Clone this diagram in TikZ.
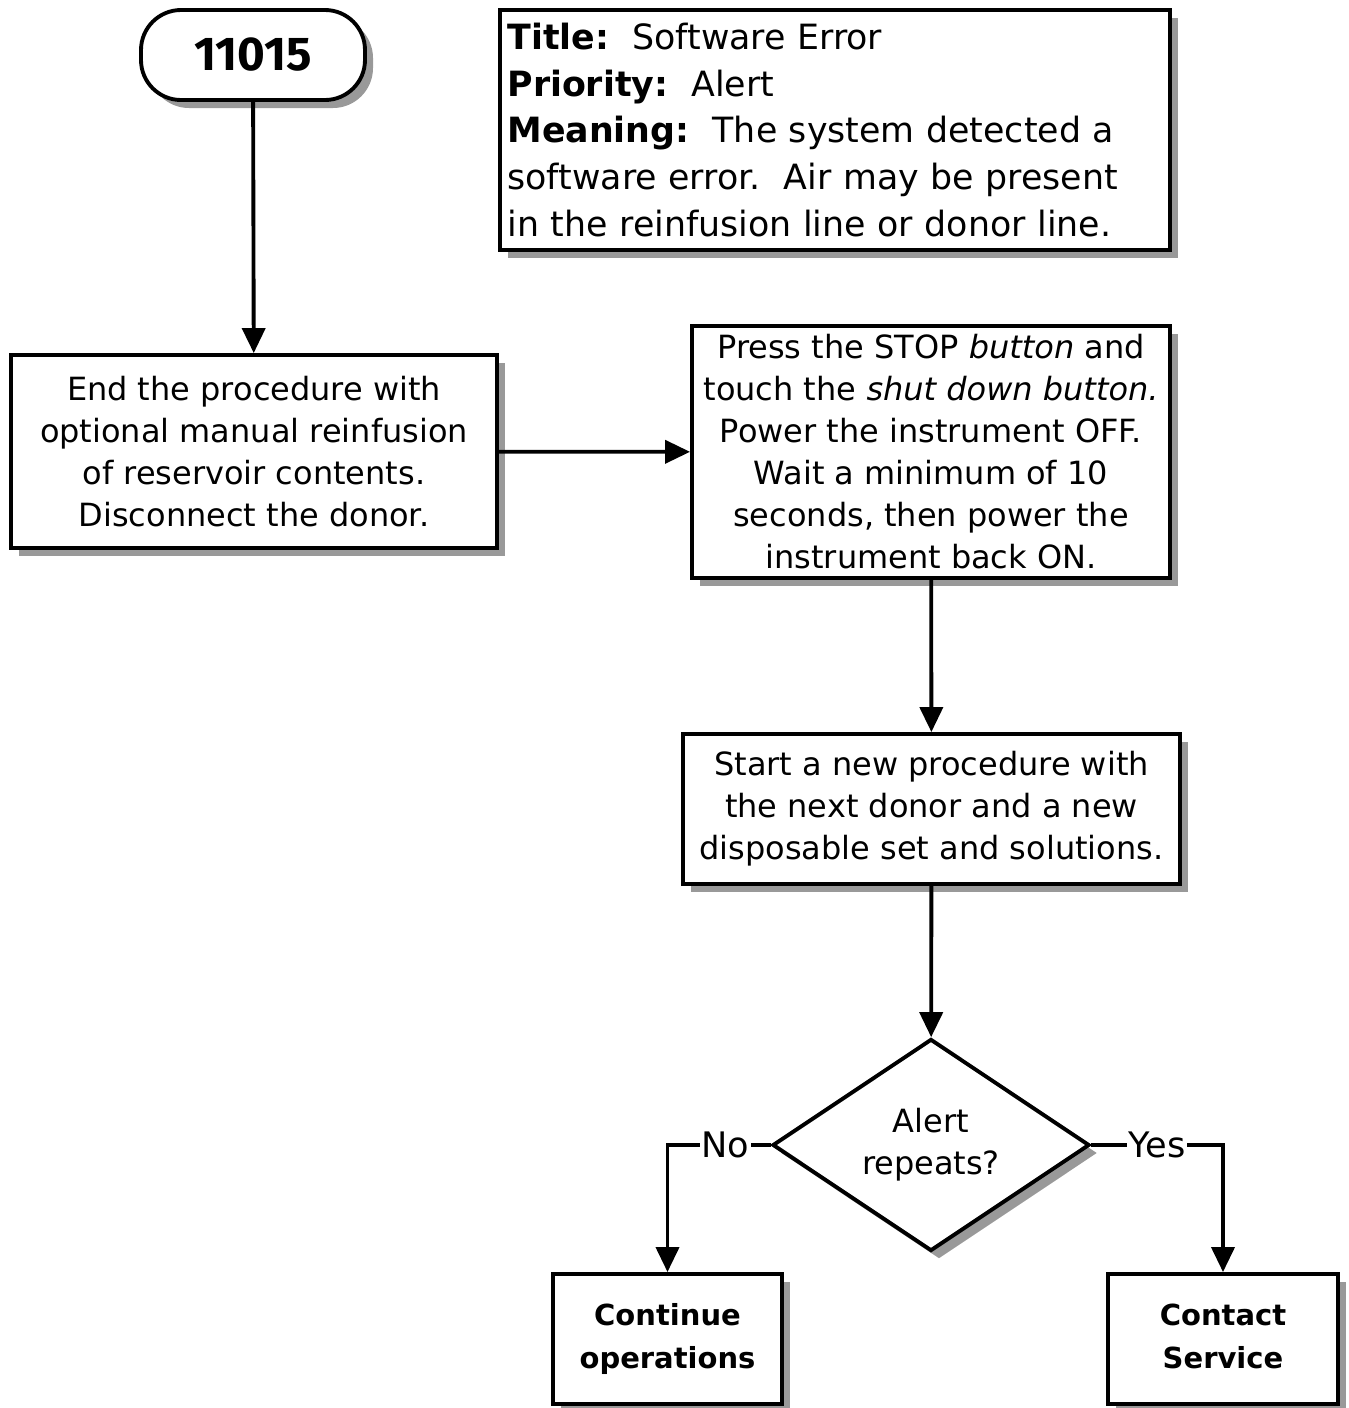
\documentclass[tikz,border=0pt]{standalone}
\usepackage{fontspec}
\setmainfont{DejaVu Sans}
\newfontfamily\codefont{Fira Sans}
\usetikzlibrary{arrows.meta}
\usetikzlibrary{shapes.geometric}
\usetikzlibrary{shadows}

\tikzset{
  shade box/.style={draw, line width=2.2pt, fill=white, inner sep=0pt,
    drop shadow={shadow xshift=0.16cm, shadow yshift=-0.16cm, fill=black!40, opacity=1}},
  stepbox/.style={shade box, align=center, font=\fontsize{18.2}{23.9}\selectfont},
  endbox/.style={stepbox, minimum width=4.6cm, minimum height=2.6cm,
    font=\fontsize{16.5}{24.2}\bfseries},
  flow/.style={line width=2.2pt, -{Triangle[length=0.5cm, width=0.46cm]}},
  answer/.style={fill=white, inner sep=1pt, font=\fontsize{20}{24}\selectfont},
}

\begin{document}
\begin{tikzpicture}
\useasboundingbox (0,0) rectangle (26.98,-28.16);

% alarm code and its description
\node[shade box, rounded corners=0.8cm, minimum width=4.48cm, minimum height=1.8cm,
  font=\codefont\fontsize{27}{30}\bfseries] (code) at (5.06,-1.10) {11015};
\node[shade box, minimum width=13.4cm, minimum height=4.8cm, text width=13.1cm,
  inner xsep=0.15cm, align=left, font=\fontsize{19.8}{26.7}\selectfont] (info) at (16.7,-2.6)
  {\textbf{Title:}\ \ Software Error\\
   \textbf{Priority:}\ \ Alert\\
   \textbf{Meaning:}\ \ The system detected a\\
   software error.\ \ Air may be present\\
   in the reinfusion line or donor line.};

% steps
\node[stepbox, minimum width=9.72cm, minimum height=3.86cm] (endproc) at (5.08,-9.03)
  {End the procedure with\\ optional manual reinfusion\\ of reservoir contents.\\ Disconnect the donor.};
\node[stepbox, minimum width=9.56cm, minimum height=5.04cm] (restart) at (18.62,-9.04)
  {Press the STOP \textit{button} and\\ touch the \textit{shut down button.}\\ Power the instrument OFF.\\
   Wait a minimum of 10\\ seconds, then power the\\ instrument back ON.};
\node[stepbox, minimum width=9.94cm, minimum height=3.0cm] (newproc) at (18.63,-16.18)
  {Start a new procedure with\\ the next donor and a new\\ disposable set and solutions.};
\node[stepbox, diamond, minimum width=6.34cm, minimum height=4.24cm] (repeat) at (18.62,-22.9)
  {Alert\\ repeats?};
\node[endbox, minimum width=4.58cm] (cont) at (13.35,-26.78) {Continue\\ operations};
\node[endbox] (service) at (24.46,-26.78) {Contact\\ Service\vphantom{p}};

% connectors
\draw[flow] (code) -- (endproc);
\draw[flow] (endproc) -- (restart);
\draw[flow] (restart) -- (newproc);
\draw[flow] (newproc) -- (repeat);
\draw[flow] (repeat.west) -| node[answer, pos=0.22]{No} (cont.north);
\draw[flow] (repeat.east) -| node[answer, pos=0.25]{Yes} (service.north);
\end{tikzpicture}
\end{document}
